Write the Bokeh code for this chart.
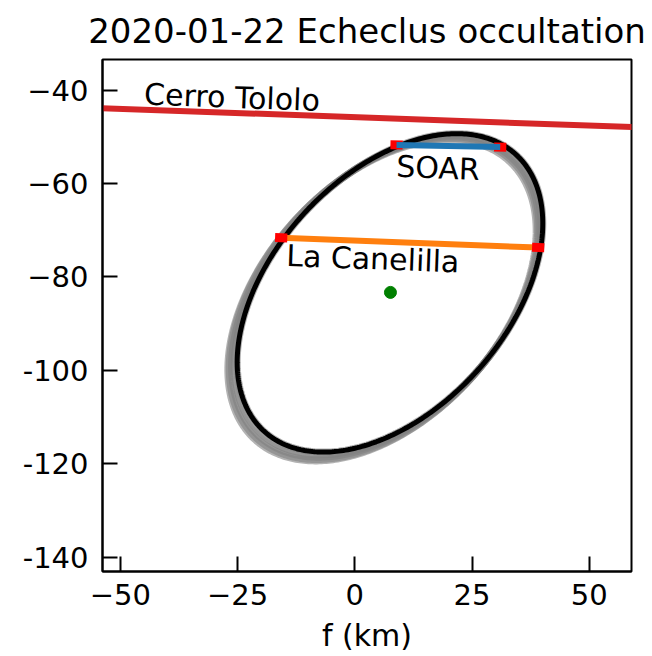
import numpy as np
from bokeh.plotting import figure
from bokeh.models import FixedTicker, Range1d
from bokeh.core.properties import value
from bokeh.embed import file_html
from bokeh.resources import INLINE

FONT = "DejaVu Sans"

# ---- data ----
title = "2020-01-22 Echeclus occultation"
x_label = "f (km)"
x_ticks = [-50, -25, 0, 25, 50]
x_tick_labels = ["\u221250", "\u221225", "0", "25", "50"]
y_ticks = [-40, -60, -80, -100, -120, -140]
y_tick_labels = ["\u221240", "\u221260", "\u221280", "-100", "-120", "-140"]

# fitted ellipse (km): centre, semi-major, semi-minor, angle (deg)
ell_center_f = 7.5
ell_center_g = -83.4
ell_a = 40.0
ell_b = 25.0
ell_angle_deg = 48.0

# uncertainty band: centre shifts and size offsets of gray solutions
band_df = [0.0, -0.5, -1.0, -1.4, -1.7]
band_dg = [0.0, -0.5, -0.9, -1.3, -1.6]
band_da = [0.0, 0.1, 0.2, 0.3, 0.3]

# chords (f start, f end, g start, g end)
chord_names = ["Cerro Tololo", "SOAR", "La Canelilla"]
chord_f0 = [-60.0, 8.9, -15.7]
chord_f1 = [65.0, 31.0, 39.1]
chord_g0 = [-43.6, -51.7, -71.6]
chord_g1 = [-48.1, -52.15, -73.7]
chord_colors = ["#d62728", "#1f77b4", "#ff7f0e"]
chord_positive = [False, True, True]
err_len = 2.6  # km, length of timing error bars at chord ends

label_f = [-44.9, 8.85, -14.6]
label_g = [-40.8, -56.3, -75.4]
label_angle = -0.037

center_pt_f = [7.6]
center_pt_g = [-83.3]

x_lim = (-53.8, 59.0)
y_lim = (-143.1, -33.4)

p = figure(width=652, height=656, output_backend="svg", toolbar_location=None,
           x_range=Range1d(*x_lim), y_range=Range1d(*y_lim),
           min_border_left=102, min_border_right=21, min_border_top=57, min_border_bottom=85)
p.background_fill_color = "white"
p.border_fill_color = "white"
p.grid.visible = False
p.outline_line_color = "black"
p.outline_line_width = 2

p.title.text = title
p.title.text_font = FONT
p.title.text_font_size = "34px"
p.title.text_font_style = "normal"
p.title.text_color = "black"
p.title.align = "center"
p.title.offset = 0
p.title.standoff = 17

for ax in (p.xaxis[0], p.yaxis[0]):
    ax.major_tick_in = 15
    ax.major_tick_out = 0
    ax.minor_tick_line_color = None
    ax.major_tick_line_width = 2
    ax.axis_line_width = 2
    ax.major_label_text_font = FONT
    ax.major_label_text_font_size = "29px"
    ax.major_label_text_color = "black"
    ax.axis_label_text_font = FONT
    ax.axis_label_text_color = "black"

p.xaxis.ticker = FixedTicker(ticks=x_ticks)
p.xaxis.major_label_overrides = {t: l for t, l in zip(x_ticks, x_tick_labels)}
p.yaxis.ticker = FixedTicker(ticks=y_ticks)
p.yaxis.major_label_overrides = {t: l for t, l in zip(y_ticks, y_tick_labels)}
p.xaxis.major_label_standoff = 12
p.yaxis.major_label_standoff = 14
p.xaxis.axis_label = x_label
p.xaxis.axis_label_text_font_size = "30px"
p.xaxis.axis_label_text_font_style = "normal"
p.xaxis.axis_label_standoff = 10


def ellipse_pts(cf, cg, a, b, ang_deg, n=400):
    t = np.linspace(0, 2 * np.pi, n)
    th = np.deg2rad(ang_deg)
    u = a * np.cos(t)
    v = b * np.sin(t)
    return cf + u * np.cos(th) - v * np.sin(th), cg + u * np.sin(th) + v * np.cos(th)


# gray uncertainty band
for df, dg, da in zip(band_df, band_dg, band_da):
    ex, ey = ellipse_pts(ell_center_f + df, ell_center_g + dg, ell_a + da, ell_b + da, ell_angle_deg)
    p.line(ex, ey, line_color="#808080", line_width=7, line_alpha=0.6)

# best-fit ellipse
ex, ey = ellipse_pts(ell_center_f, ell_center_g, ell_a, ell_b, ell_angle_deg)
p.line(ex, ey, line_color="black", line_width=5)

# chords
for name, f0, f1, g0, g1, col, pos in zip(chord_names, chord_f0, chord_f1, chord_g0,
                                          chord_g1, chord_colors, chord_positive):
    slope = (g1 - g0) / (f1 - f0)
    if pos:
        ef = [f0 - err_len / 2, f0 + err_len / 2, f1 - err_len / 2, f1 + err_len / 2]
        eg = [g0 + (e - f0) * slope for e in ef]
        if name == "SOAR":
            p.multi_line([ef[0:2], ef[2:4]], [eg[0:2], eg[2:4]], line_color="red", line_width=9)
            p.line([f0, f1], [g0, g1], line_color=col, line_width=6)
        else:
            p.line([f0, f1], [g0, g1], line_color=col, line_width=6)
            p.multi_line([ef[0:2], ef[2:4]], [eg[0:2], eg[2:4]], line_color="red", line_width=9)
    else:
        p.line([f0, f1], [g0, g1], line_color=col, line_width=6)

# labels
p.text(x=label_f, y=label_g, text=chord_names, angle=label_angle,
       text_font=value(FONT), text_font_size="30px", text_color="black",
       text_baseline="alphabetic", text_align="left")

# centre
p.scatter(center_pt_f, center_pt_g, size=12, color="green")

open("out.html", "w").write(file_html(p, INLINE))
